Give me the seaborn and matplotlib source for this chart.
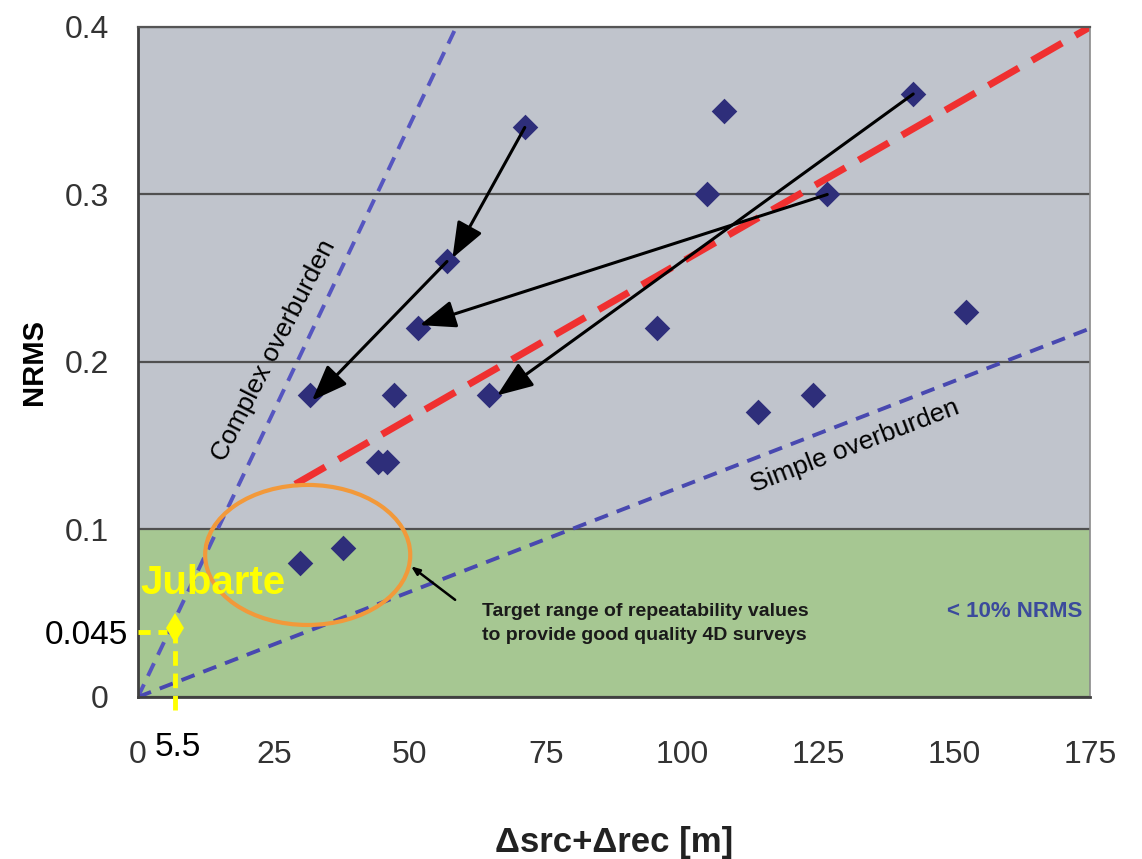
import matplotlib
matplotlib.use('Agg')
import numpy as np
import pandas as pd
import matplotlib.pyplot as plt
import seaborn as sns
from matplotlib.patches import Ellipse

# survey points
offset_m = [29.8, 37.7, 31.6, 44.1, 45.8, 47.1, 51.5, 56.8, 64.5, 71.1,
            95.4, 104.6, 107.7, 114.0, 124.1, 126.7, 142.5, 152.2]
nrms = [0.080, 0.089, 0.180, 0.140, 0.140, 0.180, 0.220, 0.260, 0.180, 0.340,
        0.220, 0.300, 0.350, 0.170, 0.180, 0.300, 0.360, 0.230]

# arrows: (from x, from y, to x, to y)
arrow_from_x = [71.1, 56.8, 126.7, 142.5]
arrow_from_y = [0.340, 0.260, 0.300, 0.360]
arrow_to_x = [57.8, 32.0, 51.8, 66.0]
arrow_to_y = [0.262, 0.177, 0.222, 0.180]

# trend lines
complex_x = [0, 58.5]
complex_y = [0, 0.40]
simple_x = [0, 175]
simple_y = [0, 0.22]
red_x = [28.9, 175]
red_y = [0.127, 0.40]

# Jubarte marker
jub_x = 6.8
jub_y = 0.039
jub_xlabel = '5.5'
jub_ylabel = '0.045'

x_ticks = [0, 25, 50, 75, 100, 125, 150, 175]
y_ticks = [0, 0.1, 0.2, 0.3, 0.4]
y_ticklabels = ['0', '0.1', '0.2', '0.3', '0.4']

sns.set_style('white')
plt.rcParams['font.family'] = ['Liberation Sans', 'DejaVu Sans']

gray_bg = '#c0c4cc'
green_bg = '#a6c792'
navy = '#2e2e7a'

fig = plt.figure(figsize=(11.42, 8.59), dpi=100)
ax = fig.add_axes([0.1208, 0.1886, 0.8337, 0.78])

ax.set_facecolor(gray_bg)
ax.axhspan(0, 0.1, color=green_bg, zorder=0)

ax.set_xlim(0, 175)
ax.set_ylim(0, 0.4)
ax.set_xticks(x_ticks)
ax.set_yticks(y_ticks)
ax.set_yticklabels(y_ticklabels)
ax.tick_params(axis='both', labelsize=23, colors='#333333', direction='out',
               length=7, width=1.2)
ax.tick_params(axis='y', pad=14)
ax.tick_params(axis='x', pad=24)
ax.yaxis.grid(True, color='#505050', lw=1.6)
ax.xaxis.grid(False)
ax.set_axisbelow(True)
for side in ['left', 'bottom']:
    ax.spines[side].set_color('#404040')
    ax.spines[side].set_linewidth(2)
ax.spines['top'].set_color('#555555')
ax.spines['top'].set_linewidth(1.6)
ax.spines['right'].set_color('#8a8a8a')
ax.spines['right'].set_linewidth(1.2)

# trend lines
ax.plot(complex_x, complex_y, ls=(0, (3.6, 2.4)), color='#5656c0', lw=2.8, zorder=2)
ax.plot(simple_x, simple_y, ls=(0, (3.6, 2.4)), color='#4848b0', lw=2.8, zorder=2)
ax.plot(red_x, red_y, ls=(0, (5, 2.2)), color='#f03030', lw=5, zorder=2)

# points
plot_df = pd.DataFrame({'offset': offset_m, 'nrms': nrms})
sns.scatterplot(data=plot_df, x='offset', y='nrms', marker='D', s=170,
                color=navy, edgecolor=navy, linewidth=0, ax=ax, zorder=4)

for x0, y0, x1, y1 in zip(arrow_from_x, arrow_from_y, arrow_to_x, arrow_to_y):
    ax.annotate('', xy=(x1, y1), xytext=(x0, y0),
                arrowprops=dict(arrowstyle='-|>,head_length=2.2,head_width=0.85',
                                color='black', lw=2.2, shrinkA=0, shrinkB=0),
                zorder=5)

# target range
ax.add_patch(Ellipse((31.2, 0.0848), 37.7, 0.0836, fill=False, edgecolor='#f2993a',
                     lw=3, zorder=3))
ax.annotate('', xy=(50.2, 0.078), xytext=(58.3, 0.058),
            arrowprops=dict(arrowstyle='-|>,head_length=0.5,head_width=0.2',
                            color='black', lw=1.8, shrinkA=0, shrinkB=0))
ax.text(63.2, 0.044, 'Target range of repeatability values\nto provide good quality 4D surveys',
        fontsize=14, fontweight='bold', color='#1a1a1a', ha='left', va='center',
        linespacing=1.5)
ax.text(161.2, 0.051, '< 10% NRMS', fontsize=16, fontweight='bold', color='#3b4a9c',
        ha='center', va='center')

ax.text(25.0, 0.207, 'Complex overburden', rotation=63, fontsize=19, color='black',
        ha='center', va='center', rotation_mode='anchor')
ax.text(131.8, 0.150, 'Simple overburden', rotation=21, fontsize=19, color='black',
        ha='center', va='center', rotation_mode='anchor')

# Jubarte
yellow = '#ffff00'
ax.text(0.4, 0.068, 'Jubarte', fontsize=29, fontweight='bold', color=yellow,
        ha='left', va='center', zorder=6)
ax.plot([0, jub_x - 1.5], [jub_y, jub_y], ls=(0, (2.5, 1.6)), color=yellow, lw=3.5,
        clip_on=False, zorder=6)
ax.plot([jub_x, jub_x], [-0.008, jub_y], ls=(0, (3, 1.6)), color=yellow, lw=3.5,
        clip_on=False, zorder=6)
ax.plot([jub_x], [jub_y + 0.002], marker='d', ms=15, color=yellow, mew=0,
        clip_on=False, zorder=6)
ax.text(-1.8, 0.037, jub_ylabel, fontsize=24, color='black', ha='right', va='center')
ax.text(3.0, -0.030, jub_xlabel, fontsize=24, color='black', ha='left', va='center')

ax.set_xlabel('\u0394src+\u0394rec [m]', fontsize=25, fontweight='bold', color='#222222',
              labelpad=40)
ax.set_ylabel('NRMS', fontsize=21, fontweight='bold', color='black', labelpad=12)

fig.savefig('out.png', dpi=100)
